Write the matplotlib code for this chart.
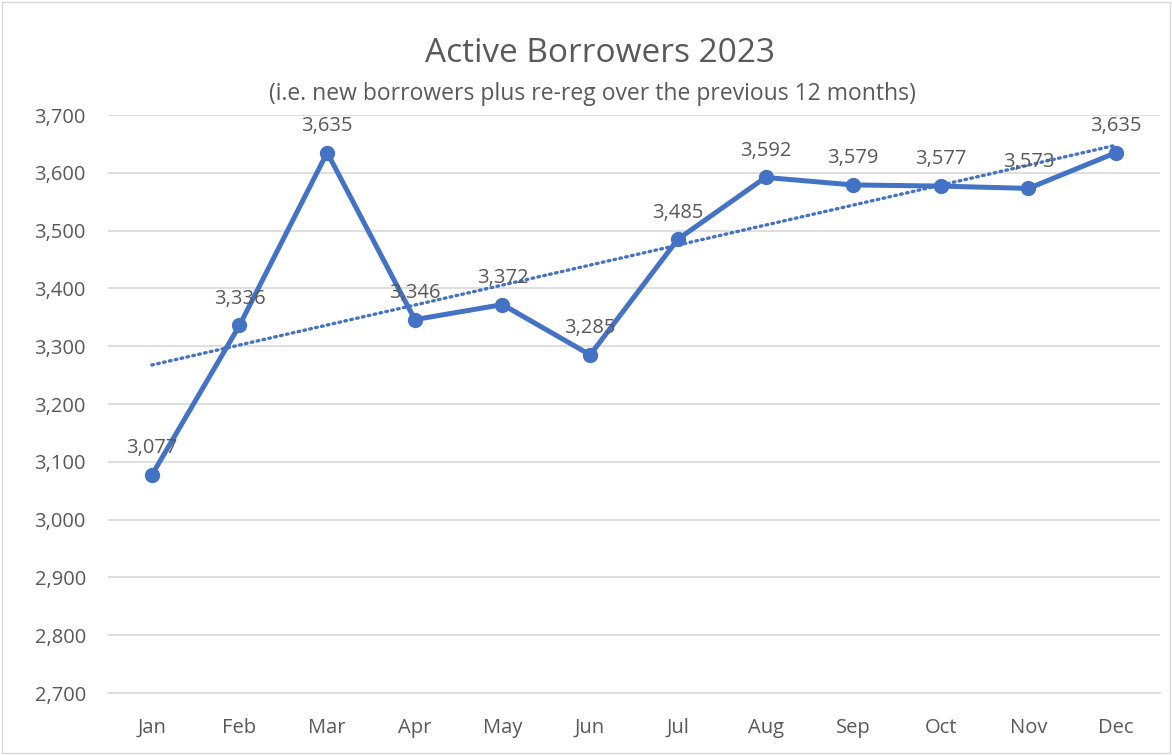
import matplotlib
matplotlib.use("Agg")
import matplotlib.pyplot as plt
import numpy as np
from matplotlib.patches import Rectangle

months = ["Jan", "Feb", "Mar", "Apr", "May", "Jun", "Jul", "Aug", "Sep", "Oct", "Nov", "Dec"]
borrowers = [3077, 3336, 3635, 3346, 3372, 3285, 3485, 3592, 3579, 3577, 3573, 3635]
y_ticks = [2700, 2800, 2900, 3000, 3100, 3200, 3300, 3400, 3500, 3600, 3700]
title = "Active Borrowers 2023"
subtitle = "(i.e. new borrowers plus re-reg over the previous 12 months)"

plt.rcParams['font.family'] = ['Open Sans', 'DejaVu Sans']
blue = "#4472C4"
txt = "#595959"

fig = plt.figure(figsize=(11.72, 7.55), dpi=100)
ax = fig.add_axes([108/1172, 1-693/755, (1160-108)/1172, (693-115)/755])

x = np.arange(len(months))
ax.plot(x, borrowers, color=blue, lw=3.6, marker='o', ms=10, zorder=3, solid_joinstyle='round')

coef = np.polyfit(x, borrowers, 1)
trend = np.polyval(coef, x)
ax.plot(x, trend, color=blue, lw=2.4, ls=(0, (0.5, 1.3)), zorder=2, dash_capstyle='round')

for xi, v in zip(x, borrowers):
    ax.annotate(f"{v:,}", (xi, v), xytext=(0, 12), textcoords='offset points',
                ha='center', va='bottom', fontsize=14.5, color=txt, zorder=4)

ax.set_xlim(-0.5, len(months)-0.5)
ax.set_ylim(2700, 3700)
ax.set_yticks(y_ticks)
ax.set_yticklabels([f"{t:,}" for t in y_ticks])
ax.set_xticks(x)
ax.set_xticklabels(months)
ax.tick_params(axis='both', length=0, labelsize=14.5, labelcolor=txt)
ax.tick_params(axis='y', pad=16)
ax.tick_params(axis='x', pad=18)
ax.grid(axis='y', color='#D9D9D9', lw=1.2)
ax.set_axisbelow(True)
for s in ['top', 'right', 'left']:
    ax.spines[s].set_visible(False)
ax.spines['bottom'].set_color('#D9D9D9')
ax.spines['bottom'].set_linewidth(1.2)

fig.text(600/1172, 1-54/755, title, ha='center', va='center', fontsize=24, color=txt)
fig.text(592/1172, 1-94/755, subtitle, ha='center', va='center', fontsize=16.5, color=txt)

fig.patches.append(Rectangle((0.002, 0.002), 0.996, 0.996, transform=fig.transFigure,
                             fill=False, edgecolor='#D9D9D9', lw=1))

fig.savefig("out.png", dpi=100)
